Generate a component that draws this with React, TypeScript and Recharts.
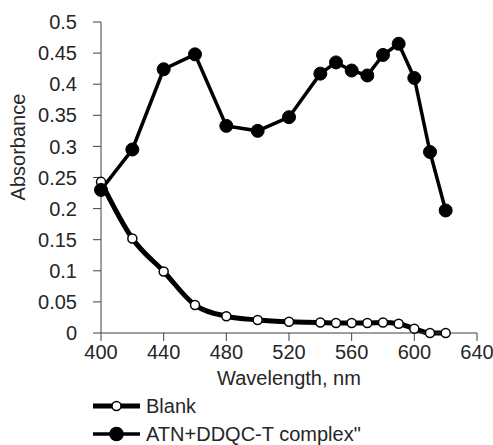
import React from 'react';
import { LineChart, Line, XAxis, YAxis } from 'recharts';

// wavelengths (nm), shared by both series
const wavelengths = [400, 420, 440, 460, 480, 500, 520, 540, 550, 560, 570, 580, 590, 600, 610, 620];
const blankValues = [0.243, 0.152, 0.099, 0.045, 0.027, 0.021, 0.018, 0.017, 0.016, 0.016, 0.016, 0.017, 0.015, 0.007, 0.0, 0.0];
const complexValues = [0.23, 0.295, 0.424, 0.448, 0.333, 0.325, 0.347, 0.417, 0.435, 0.422, 0.414, 0.447, 0.465, 0.41, 0.291, 0.197];
const xTicks = [400, 440, 480, 520, 560, 600, 640];
const yTicks = [0, 0.05, 0.1, 0.15, 0.2, 0.25, 0.3, 0.35, 0.4, 0.45, 0.5];

const data = wavelengths.map((w, i) => ({
    wavelength: w,
    blank: blankValues[i],
    complex: complexValues[i],
}));

const FONT = '"Liberation Sans", Arial, sans-serif';
const TEXT = '#262626';
const AXIS = '#404040';

const LegendRow = ({ label, filled, top }: { label: string; filled: boolean; top: number }) => (
    <div style={{ position: 'absolute', left: 93, top: top - 10, height: 20, display: 'flex', alignItems: 'center' }}>
        <svg width={48} height={20}>
            <line x1={0} y1={10} x2={47} y2={10} stroke="#000" strokeWidth={filled ? 3.5 : 5} />
            <circle cx={23.5} cy={10} r={filled ? 6.5 : 4.5} fill={filled ? '#000' : '#fff'} stroke="#000" strokeWidth={1.5} />
        </svg>
        <span style={{ marginLeft: 5, fontSize: 20, lineHeight: '20px', color: TEXT, fontFamily: FONT, whiteSpace: 'nowrap' }}>{label}</span>
    </div>
);

export default function App() {
    return (
        <div style={{ position: 'relative', width: 493, height: 445, background: '#fff', fontFamily: FONT, overflow: 'hidden' }}>
            <style>{`body{margin:0}`}</style>
            <LineChart width={493} height={445} data={data} margin={{ top: 22, right: 16, left: 0, bottom: 52 }}>
                <XAxis
                    dataKey="wavelength"
                    type="number"
                    domain={[400, 640]}
                    ticks={xTicks}
                    height={60}
                    stroke={AXIS}
                    tickSize={8}
                    tickMargin={4}
                    tick={{ fontSize: 20, fill: TEXT, fontFamily: FONT }}
                    label={{ value: 'Wavelength, nm', position: 'insideBottom', offset: 8, fontSize: 20, fill: TEXT, fontFamily: FONT }}
                />
                <YAxis
                    type="number"
                    domain={[0, 0.5]}
                    ticks={yTicks}
                    width={101}
                    stroke={AXIS}
                    tickSize={8}
                    tickMargin={16}
                    tick={{ fontSize: 20, fill: TEXT, fontFamily: FONT }}
                    label={{
                        content: () => (
                            <text
                                x={18}
                                y={147}
                                transform={`rotate(-90, 18, 147)`}
                                textAnchor="middle"
                                dominantBaseline="central"
                                fontSize={20}
                                fill={TEXT}
                                fontFamily={FONT}
                            >
                                Absorbance
                            </text>
                        ),
                    }}
                />
                <Line
                    dataKey="blank"
                    type="monotone"
                    stroke="#000"
                    strokeWidth={5}
                    dot={{ r: 4.5, fill: '#fff', stroke: '#000', strokeWidth: 1.5 }}
                    isAnimationActive={false}
                />
                <Line
                    dataKey="complex"
                    type="linear"
                    stroke="#000"
                    strokeWidth={3.5}
                    dot={{ r: 6.5, fill: '#000', stroke: '#000', strokeWidth: 1 }}
                    isAnimationActive={false}
                />
            </LineChart>
            <LegendRow label="Blank" filled={false} top={406} />
            <LegendRow label={'ATN+DDQC-T complex"'} filled={true} top={434} />
        </div>
    );
}
